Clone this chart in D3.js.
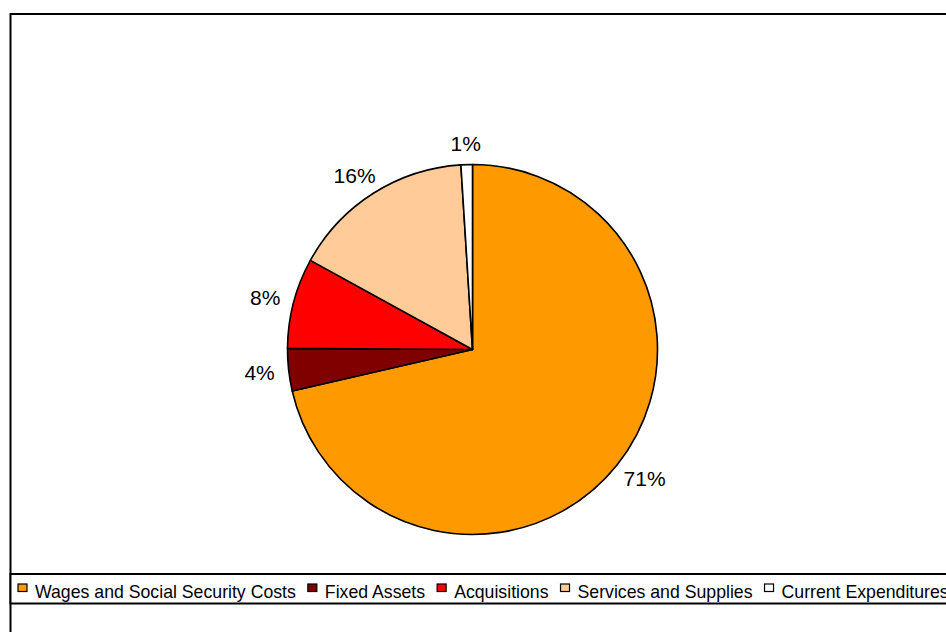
<!DOCTYPE html>
<html>
<head>
<meta charset="utf-8">
<script src="https://cdn.jsdelivr.net/npm/d3@7"></script>
<style>
  html, body { margin: 0; padding: 0; background: #ffffff; overflow: hidden; }
  svg { display: block; font-family: "Liberation Sans", Arial, sans-serif; }
</style>
</head>
<body>
<svg id="chart" width="946" height="632"></svg>
<script>
// Expenditure breakdown (share of total, %)
const categories = [
  "Wages and Social Security Costs",
  "Fixed Assets",
  "Acquisitions",
  "Services and Supplies",
  "Current Expenditures"
];
const shares = [71.4, 3.7, 7.9, 16.0, 1.0];
const sliceColors = ["#FF9900", "#800000", "#FF0000", "#FFCC99", "#FFFFFF"];

const W = 946, H = 632;
const svg = d3.select("#chart");

// Frame of the chart area (runs off the right and bottom edges)
svg.append("rect")
  .attr("x", 10.5).attr("y", 14)
  .attr("width", 960).attr("height", 640)
  .attr("fill", "#ffffff")
  .attr("stroke", "#000").attr("stroke-width", 2);

// Pie
const cx = 472.5, cy = 349.5, radius = 185;
const total = d3.sum(shares);
const data = categories.map((c, i) => ({ name: c, value: shares[i], color: sliceColors[i] }));

const pie = d3.pie().sort(null).value(d => d.value)
  .startAngle(0).endAngle(2 * Math.PI);
const arcs = pie(data);
const arc = d3.arc().innerRadius(0).outerRadius(radius);

const g = svg.append("g").attr("transform", `translate(${cx},${cy})`);

g.selectAll("path.slice")
  .data(arcs)
  .enter().append("path")
  .attr("class", "slice")
  .attr("d", arc)
  .attr("fill", d => d.data.color)
  .attr("stroke", "#000")
  .attr("stroke-width", 1.6)
  .attr("stroke-linejoin", "round");

// Percentage labels just outside each slice
const pct = d3.format(".0%");
const labelSize = 21;
const capH = labelSize * 0.716;
const gap = 14;

const labels = g.selectAll("text.pct")
  .data(arcs)
  .enter().append("text")
  .attr("class", "pct")
  .attr("font-size", labelSize)
  .attr("fill", "#000")
  .attr("text-anchor", "middle")
  .text(d => pct(d.data.value / total));

labels.each(function(d) {
  const t = d3.select(this);
  const w = this.getComputedTextLength();
  const mid = (d.startAngle + d.endAngle) / 2;
  const ux = Math.sin(mid), uy = -Math.cos(mid);
  const px = (radius + gap) * ux, py = (radius + gap) * uy;
  const x = px + (w / 2) * ux;
  const yc = py + (capH / 2) * uy;
  t.attr("x", x).attr("y", yc + capH / 2);
});

// Legend strip
svg.append("rect")
  .attr("x", 10.5).attr("y", 574)
  .attr("width", 960).attr("height", 29.5)
  .attr("fill", "#ffffff")
  .attr("stroke", "#000").attr("stroke-width", 2);

const legend = svg.append("g");
let lx = 18;
data.forEach(d => {
  legend.append("rect")
    .attr("x", lx).attr("y", 584)
    .attr("width", 9).attr("height", 7.5)
    .attr("fill", d.color)
    .attr("stroke", "#000").attr("stroke-width", 1.2);
  const t = legend.append("text")
    .attr("x", lx + 17).attr("y", 597.5)
    .attr("font-size", 17.7)
    .attr("fill", "#000")
    .text(d.name);
  lx = lx + 17 + t.node().getComputedTextLength() + 12;
});
</script>
</body>
</html>
